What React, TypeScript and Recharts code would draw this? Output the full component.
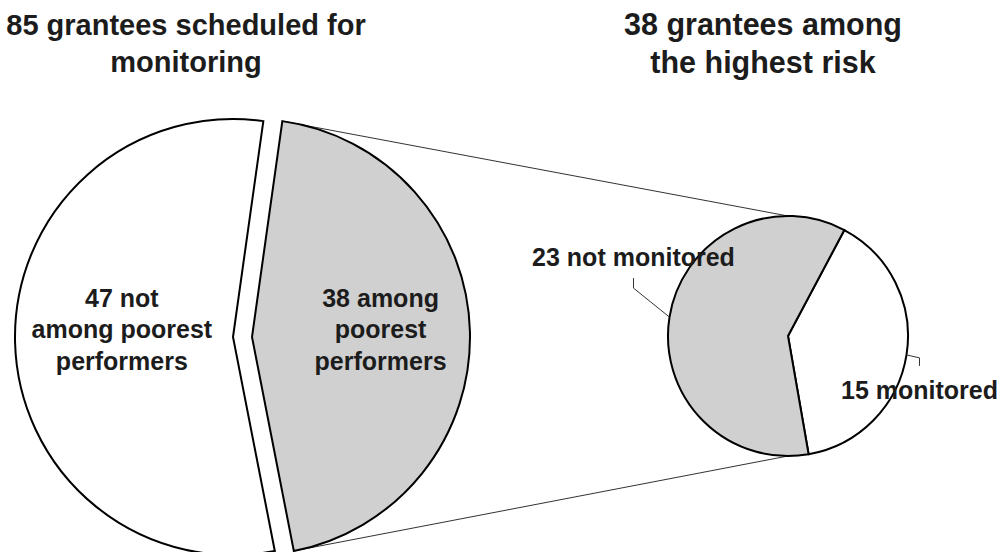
import { Cell, Customized, Pie, PieChart } from 'recharts';

const WIDTH = 1003;
const HEIGHT = 552;
const RADIAN = Math.PI / 180;
const FONT = '"Liberation Sans", Arial, Helvetica, sans-serif';
const INK = '#1c1c1c';
const GRAY = '#d0d0d0';

// big pie: all 85 grantees scheduled for monitoring
const bigNames = ['38 among poorest performers', '47 not among poorest performers'];
const bigValues = [38, 47];
const bigLabelLines = [
  ['38 among', 'poorest', 'performers'],
  ['47 not', 'among poorest', 'performers'],
];

// small pie: the 38 highest risk grantees
const smallNames = ['15 monitored', '23 not monitored'];
const smallValues = [15, 23];

const titles = [
  ['85 grantees scheduled for', 'monitoring'],
  ['38 grantees among', 'the highest risk'],
];

const bigData = bigValues.map((value, i) => ({ name: bigNames[i], value }));
const smallData = smallValues.map((value, i) => ({ name: smallNames[i], value }));

const BIG = { cx: 233, cy: 337, r: 218, explode: 19, start: 82 };
const SMALL = { cx: 788, cy: 336, r: 120, start: 62 };

const bigTotal = bigValues.reduce((s, v) => s + v, 0);

function polar(cx: number, cy: number, r: number, angle: number) {
  return { x: cx + r * Math.cos(angle * RADIAN), y: cy - r * Math.sin(angle * RADIAN) };
}

const bigLabel = (visibleIndex: number, frac: number) => (props: any) => {
  if (props.index !== visibleIndex) return null;
  const { cx, cy, midAngle, outerRadius } = props;
  const x = cx + outerRadius * frac * Math.cos(-midAngle * RADIAN);
  const lines = bigLabelLines[props.index];
  return (
    <text textAnchor="middle" fontFamily={FONT} fontWeight="bold" fontSize={25} fill={INK}>
      {lines.map((line, i) => (
        <tspan key={line} x={x} y={cy + (i - 1) * 31.5 + 1}>
          {line}
        </tspan>
      ))}
    </text>
  );
};

const smallLabel = (props: any) => {
  const { cx, cy, midAngle, outerRadius, index } = props;
  const cos = Math.cos(-midAngle * RADIAN);
  const sin = Math.sin(-midAngle * RADIAN);
  const sx = cx + outerRadius * cos;
  const sy = cy + outerRadius * sin;
  let points: string;
  let tx: number;
  let ty: number;
  if (cos < 0) {
    const ex = sx - 36;
    const ey = sy - 29;
    points = `${sx},${sy} ${ex},${ey} ${ex},${ey - 10}`;
    tx = ex;
    ty = ey - 22;
  } else {
    const ex = sx + 13;
    const ey = sy + 3;
    points = `${sx},${sy} ${ex},${ey} ${ex},${ey + 8}`;
    tx = ex;
    ty = ey + 41;
  }
  return (
    <g>
      <polyline points={points} fill="none" stroke="#333" strokeWidth={1} />
      <text x={tx} y={ty} textAnchor="middle" fontFamily={FONT} fontWeight="bold" fontSize={25} fill={INK}>
        {smallNames[index]}
      </text>
    </g>
  );
};

function Decorations() {
  const grayEnd = BIG.start - (360 * bigValues[0]) / bigTotal;
  const topCorner = polar(BIG.cx + BIG.explode, BIG.cy, BIG.r, BIG.start);
  const bottomCorner = polar(BIG.cx + BIG.explode, BIG.cy, BIG.r, grayEnd);
  return (
    <g>
      <line x1={topCorner.x} y1={topCorner.y} x2={SMALL.cx} y2={SMALL.cy - SMALL.r} stroke="#333" strokeWidth={1} />
      <line x1={bottomCorner.x} y1={bottomCorner.y} x2={SMALL.cx} y2={SMALL.cy + SMALL.r} stroke="#333" strokeWidth={1} />
      <text textAnchor="middle" fontFamily={FONT} fontWeight="bold" fontSize={29} fill={INK}>
        <tspan x={186} y={35}>{titles[0][0]}</tspan>
        <tspan x={186} y={72}>{titles[0][1]}</tspan>
      </text>
      <text textAnchor="middle" fontFamily={FONT} fontWeight="bold" fontSize={30.5} fill={INK}>
        <tspan x={763} y={35}>{titles[1][0]}</tspan>
        <tspan x={763} y={73}>{titles[1][1]}</tspan>
      </text>
    </g>
  );
}

export default function App() {
  return (
    <div style={{ position: 'absolute', left: 0, top: 0, width: WIDTH, height: HEIGHT, background: '#fff' }}>
      <PieChart width={WIDTH} height={HEIGHT} margin={{ top: 0, right: 0, bottom: 0, left: 0 }}>
        <Customized component={<Decorations />} />
        <Pie
          data={bigData}
          dataKey="value"
          cx={BIG.cx}
          cy={BIG.cy}
          outerRadius={BIG.r}
          startAngle={BIG.start}
          endAngle={BIG.start - 360}
          stroke="#000"
          strokeWidth={2}
          label={bigLabel(1, 0.51)}
          labelLine={false}
          isAnimationActive={false}
        >
          <Cell fill="none" stroke="none" />
          <Cell fill="#fff" />
        </Pie>
        <Pie
          data={bigData}
          dataKey="value"
          cx={BIG.cx + BIG.explode}
          cy={BIG.cy}
          outerRadius={BIG.r}
          startAngle={BIG.start}
          endAngle={BIG.start - 360}
          stroke="#000"
          strokeWidth={2}
          label={bigLabel(0, 0.59)}
          labelLine={false}
          isAnimationActive={false}
        >
          <Cell fill={GRAY} />
          <Cell fill="none" stroke="none" />
        </Pie>
        <Pie
          data={smallData}
          dataKey="value"
          cx={SMALL.cx}
          cy={SMALL.cy}
          outerRadius={SMALL.r}
          startAngle={SMALL.start}
          endAngle={SMALL.start - 360}
          stroke="#000"
          strokeWidth={2}
          label={smallLabel}
          labelLine={false}
          isAnimationActive={false}
        >
          <Cell fill="#fff" />
          <Cell fill={GRAY} />
        </Pie>
      </PieChart>
    </div>
  );
}
